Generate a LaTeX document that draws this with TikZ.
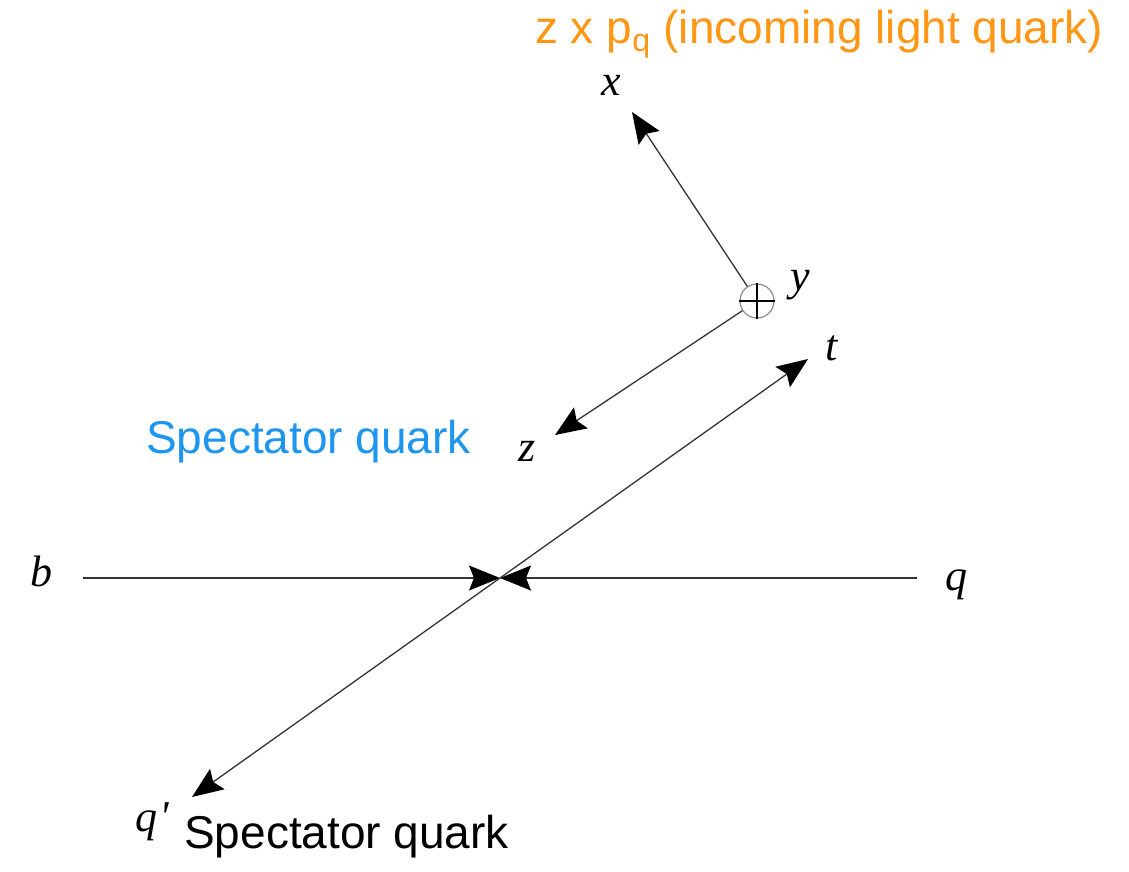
\documentclass[tikz,border=0pt]{standalone}
\usepackage{fontspec}
\setmainfont{Liberation Serif}
\newfontfamily\labelsans{Liberation Sans}
\usetikzlibrary{arrows.meta}
\definecolor{specblue}{RGB}{30,150,240}
\definecolor{lightorange}{RGB}{255,150,20}
\tikzset{
  tip/.tip={Stealth[length=31pt,width=25pt,inset=5pt,fill=black,color=black]},
  axis/.style={line width=1.3pt, draw=black!80, -tip},
  varlabel/.style={font=\fontsize{44}{48}\selectfont\itshape, inner sep=0pt, anchor=base},
  textlabel/.style={font=\labelsans\fontsize{46}{50}\selectfont, inner sep=0pt, anchor=base west},
}
\begin{document}
\begin{tikzpicture}[x=1pt,y=-1pt]
\useasboundingbox (0,0) rectangle (1129,871);
% coordinates
\coordinate (c) at (500,578);
\coordinate (bl) at (83,578);
\coordinate (qr) at (917,578);
\coordinate (ttip) at (808,359);
\coordinate (qptip) at (192,797);
\coordinate (xtip) at (632,112);
\coordinate (ztip) at (555,435);
% oplus
\node[circle, draw=black!45, line width=1.2pt, minimum size=34pt, inner sep=0pt] (o) at (757,301) {};
\draw[line width=1.3pt] (o.north) -- (o.south);
\draw[line width=1.3pt] (o.west) -- (o.east);
% axes
\draw[axis] (o) -- (xtip);
\draw[axis] (o) -- (ztip);
\draw[axis] (bl) -- (c);
\draw[axis] (qr) -- (c);
\draw[axis, tip-tip] (qptip) -- (ttip);
% labels
\node[varlabel] (lx) at (611,95) {x};
\node[varlabel] (ly) at (800,290) {y};
\node[varlabel] (lz) at (527,461) {z};
\node[varlabel] (lt) at (832,360) {t};
\node[varlabel] (lb) at (41,586) {b};
\node[varlabel] (lq) at (956,590) {q};
\node[varlabel] (lqp) at (152,831) {q\kern2pt\textquotesingle};
\node[textlabel, text=lightorange] (inc) at (535,43) {z x p\textsubscript{q} (incoming light quark)};
\node[textlabel, text=specblue] (spec1) at (146,453) {Spectator quark};
\node[textlabel, text=black] (spec2) at (184,848) {Spectator quark};
\end{tikzpicture}
\end{document}
